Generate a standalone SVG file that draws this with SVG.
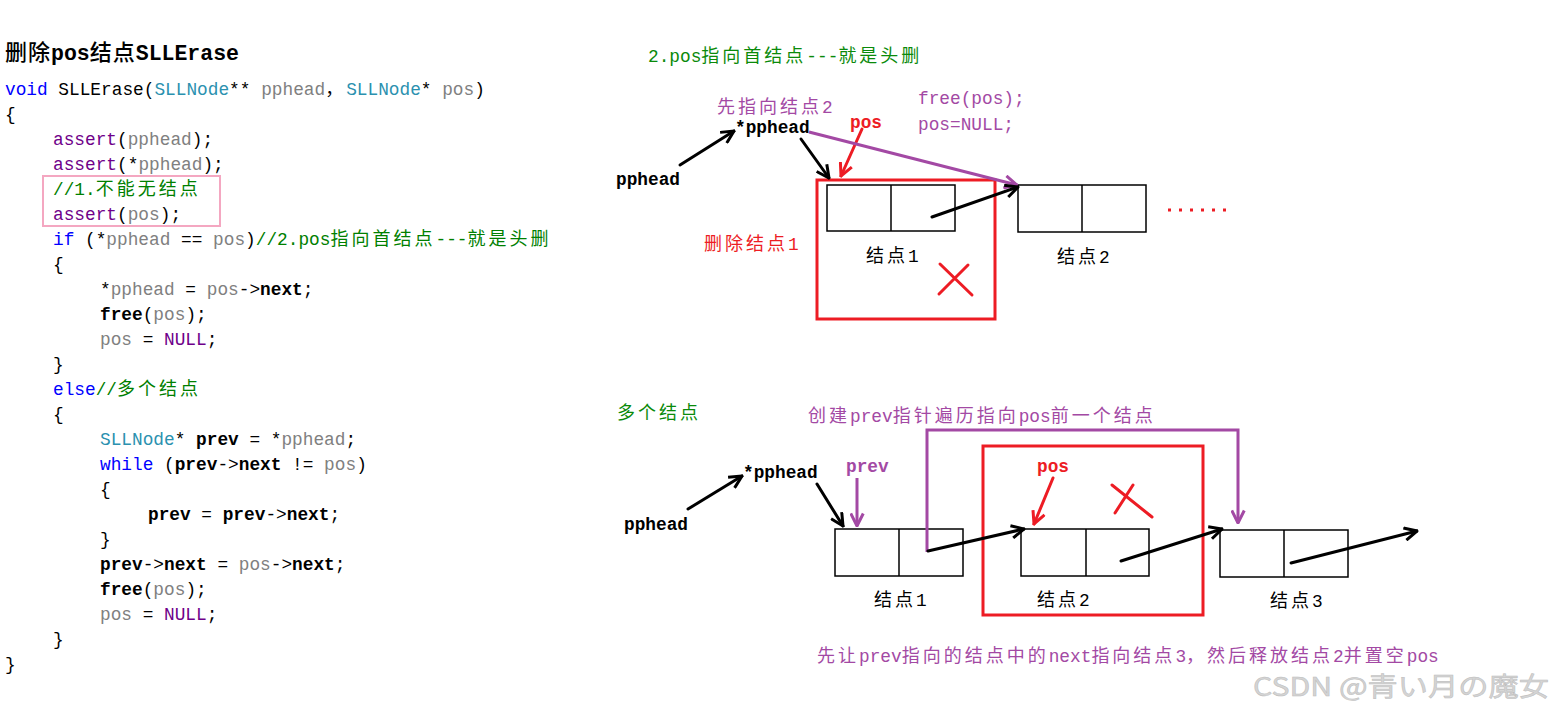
<svg xmlns="http://www.w3.org/2000/svg" width="1555" height="705" viewBox="0 0 1555 705">
<defs>
<style>
text{font-family:"Liberation Mono","Noto Sans CJK SC",monospace;font-size:17.8px;fill:#000}
.c{font-family:"Noto Sans CJK SC",sans-serif;font-size:18px;letter-spacing:3px}
.kw{fill:#0000FF}.ty{fill:#2B91AF}.pa{fill:#808080}.fn{fill:#6F008A}.cm{fill:#008000}
.b{font-weight:bold}
.g{fill:#0a8a0a}.pu{fill:#A349A4}.rd{fill:#ED1C24}
.node{fill:#fff;stroke:#000;stroke-width:1.5}
.blk{stroke:#000;stroke-width:3;fill:none;stroke-linecap:round}
.red{stroke:#ED1C24;stroke-width:3;fill:none;stroke-linecap:round}
.pur{stroke:#A349A4;stroke-width:3;fill:none}
.box{stroke:#ED1C24;stroke-width:3;fill:none}
</style>
<marker id="ab" viewBox="0 0 12 12" refX="11" refY="6" markerWidth="15" markerHeight="15" markerUnits="userSpaceOnUse" orient="auto"><path d="M1,1 L11,6 L1,11" fill="none" stroke="#000" stroke-width="2.4"/></marker>
<marker id="ar" viewBox="0 0 12 12" refX="11" refY="6" markerWidth="15" markerHeight="15" markerUnits="userSpaceOnUse" orient="auto"><path d="M1,1 L11,6 L1,11" fill="none" stroke="#ED1C24" stroke-width="2.4"/></marker>
<marker id="ap" viewBox="0 0 12 12" refX="11" refY="6" markerWidth="15" markerHeight="15" markerUnits="userSpaceOnUse" orient="auto"><path d="M1,1 L11,6 L1,11" fill="none" stroke="#A349A4" stroke-width="2.4"/></marker>
</defs>
<rect width="1555" height="705" fill="#fff"/>

<g id="code">
<text x="5" y="60" style="font-size:21.5px;font-weight:bold"><tspan class="c" style="font-size:22px;letter-spacing:1px;font-weight:500">删除</tspan>pos<tspan class="c" style="font-size:22px;letter-spacing:1px;font-weight:500">结点</tspan>SLLErase</text>
<rect x="43" y="176" width="177" height="50" fill="none" stroke="#F4A7C1" stroke-width="2"/>
<text x="5" y="95"><tspan class="kw">void</tspan> SLLErase(<tspan class="ty">SLLNode</tspan>** <tspan class="pa">pphead</tspan><tspan class="c">，</tspan><tspan class="ty">SLLNode</tspan>* <tspan class="pa">pos</tspan>)</text>
<text x="5" y="120">{</text>
<text x="53" y="145"><tspan class="fn">assert</tspan>(<tspan class="pa">pphead</tspan>);</text>
<text x="53" y="170"><tspan class="fn">assert</tspan>(*<tspan class="pa">pphead</tspan>);</text>
<text x="53" y="195" class="cm">//1.<tspan class="c">不能无结点</tspan></text>
<text x="53" y="220"><tspan class="fn">assert</tspan>(<tspan class="pa">pos</tspan>);</text>
<text x="53" y="245"><tspan class="kw">if</tspan> (*<tspan class="pa">pphead</tspan> == <tspan class="pa">pos</tspan>)<tspan class="cm">//2.pos<tspan class="c">指向首结点</tspan>---<tspan class="c">就是头删</tspan></tspan></text>
<text x="53" y="270">{</text>
<text x="100" y="295">*<tspan class="pa">pphead</tspan> = <tspan class="pa">pos</tspan>-&gt;<tspan class="b">next</tspan>;</text>
<text x="100" y="320"><tspan class="b">free</tspan>(<tspan class="pa">pos</tspan>);</text>
<text x="100" y="345"><tspan class="pa">pos</tspan> = <tspan class="fn">NULL</tspan>;</text>
<text x="53" y="370">}</text>
<text x="53" y="395"><tspan class="kw">else</tspan><tspan class="cm">//<tspan class="c">多个结点</tspan></tspan></text>
<text x="53" y="420">{</text>
<text x="100" y="445"><tspan class="ty">SLLNode</tspan>* <tspan class="b">prev</tspan> = *<tspan class="pa">pphead</tspan>;</text>
<text x="100" y="470"><tspan class="kw">while</tspan> (<tspan class="b">prev</tspan>-&gt;<tspan class="b">next</tspan> != <tspan class="pa">pos</tspan>)</text>
<text x="100" y="495">{</text>
<text x="148" y="520"><tspan class="b">prev</tspan> = <tspan class="b">prev</tspan>-&gt;<tspan class="b">next</tspan>;</text>
<text x="100" y="545">}</text>
<text x="100" y="570"><tspan class="b">prev</tspan>-&gt;<tspan class="b">next</tspan> = <tspan class="pa">pos</tspan>-&gt;<tspan class="b">next</tspan>;</text>
<text x="100" y="595"><tspan class="b">free</tspan>(<tspan class="pa">pos</tspan>);</text>
<text x="100" y="620"><tspan class="pa">pos</tspan> = <tspan class="fn">NULL</tspan>;</text>
<text x="53" y="645">}</text>
<text x="5" y="670">}</text>
</g>

<g id="top-labels">
<text x="648" y="62" class="g">2.pos<tspan class="c">指向首结点</tspan>---<tspan class="c">就是头删</tspan></text>
<text x="717" y="113" class="pu"><tspan class="c">先指向结点</tspan>2</text>
<text x="918" y="104" class="pu">free(pos);</text>
<text x="918" y="130" class="pu">pos=NULL;</text>
<text x="850" y="128" class="rd b">pos</text>
<text x="735" y="133" class="b">*pphead</text>
<text x="616" y="185" class="b">pphead</text>
<text x="704" y="250" class="rd"><tspan class="c">删除结点</tspan>1</text>
</g>

<g id="top-deleted-box">
<rect x="817" y="180" width="178" height="139" class="box"/>
<path d="M940,264 L972,295 M968,265 L939,294" class="red"/>
</g>

<g id="top-node1">
<rect x="827" y="185" width="128" height="46" class="node"/>
<line x1="891" y1="185" x2="891" y2="231" stroke="#000" stroke-width="1.5"/>
<text x="866" y="262"><tspan class="c">结点</tspan>1</text>
</g>

<g id="top-node2">
<rect x="1018" y="185" width="128" height="47" class="node"/>
<line x1="1082" y1="185" x2="1082" y2="232" stroke="#000" stroke-width="1.5"/>
<text x="1057" y="263"><tspan class="c">结点</tspan>2</text>
</g>

<g id="top-dots">
<line x1="1168" y1="210" x2="1228" y2="210" stroke="#ED1C24" stroke-width="3" stroke-dasharray="3,8"/>
</g>

<g id="top-connectors">
<line x1="680" y1="165" x2="734" y2="131" class="blk" marker-end="url(#ab)"/>
<line x1="801" y1="139" x2="829" y2="178" class="blk" marker-end="url(#ab)"/>
<line x1="862" y1="129" x2="841" y2="176" class="red" marker-end="url(#ar)"/>
<line x1="809" y1="132" x2="1017" y2="185" class="pur" marker-end="url(#ap)"/>
<line x1="932" y1="217" x2="1018" y2="187" class="blk" marker-end="url(#ab)"/>
</g>

<g id="bottom-labels">
<text x="617" y="419" class="g"><tspan class="c">多个结点</tspan></text>
<text x="808" y="422" class="pu"><tspan class="c">创建</tspan>prev<tspan class="c">指针遍历指向</tspan>pos<tspan class="c">前一个结点</tspan></text>
<text x="743" y="478" class="b">*pphead</text>
<text x="624" y="530" class="b">pphead</text>
<text x="846" y="472" class="pu b">prev</text>
<text x="1037" y="472" class="rd b">pos</text>
<text x="817" y="662" class="pu"><tspan class="c">先让</tspan>prev<tspan class="c">指向的结点中的</tspan>next<tspan class="c">指向结点</tspan>3<tspan class="c">，然后释放结点</tspan>2<tspan class="c">并置空</tspan>pos</text>
</g>

<g id="bottom-deleted-box">
<rect x="983" y="446" width="220" height="169" class="box"/>
<path d="M1112,485 L1152,517 M1133,485 L1115,513" class="red"/>
</g>

<g id="bottom-node1">
<rect x="835" y="529" width="128" height="47" class="node"/>
<line x1="899" y1="529" x2="899" y2="576" stroke="#000" stroke-width="1.5"/>
<text x="874" y="606"><tspan class="c">结点</tspan>1</text>
</g>

<g id="bottom-node2">
<rect x="1021" y="529" width="128" height="47" class="node"/>
<line x1="1086" y1="529" x2="1086" y2="576" stroke="#000" stroke-width="1.5"/>
<text x="1037" y="606"><tspan class="c">结点</tspan>2</text>
</g>

<g id="bottom-node3">
<rect x="1220" y="530" width="128" height="47" class="node"/>
<line x1="1284" y1="530" x2="1284" y2="577" stroke="#000" stroke-width="1.5"/>
<text x="1270" y="607"><tspan class="c">结点</tspan>3</text>
</g>

<g id="bottom-connectors">
<path d="M927,552 L927,430 L1238,430 L1238,523" class="pur" marker-end="url(#ap)"/>
<line x1="688" y1="509" x2="742" y2="476" class="blk" marker-end="url(#ab)"/>
<line x1="817" y1="484" x2="843" y2="526" class="blk" marker-end="url(#ab)"/>
<line x1="857" y1="478" x2="857" y2="526" class="pur" marker-end="url(#ap)"/>
<line x1="1053" y1="478" x2="1034" y2="524" class="red" marker-end="url(#ar)"/>
<line x1="928" y1="551" x2="1024" y2="529" class="blk" marker-end="url(#ab)"/>
<line x1="1121" y1="561" x2="1222" y2="529" class="blk" marker-end="url(#ab)"/>
<line x1="1291" y1="563" x2="1417" y2="531" class="blk" marker-end="url(#ab)"/>
</g>

<g id="watermark">
<text x="1253" y="696" textLength="296" lengthAdjust="spacingAndGlyphs" style="font-family:'Noto Sans CJK JP','Liberation Sans',sans-serif;font-size:26px;fill:#d4d4d4;stroke:#bdbdbd;stroke-width:0.5">CSDN @青い月の魔女</text>
</g>
</svg>
